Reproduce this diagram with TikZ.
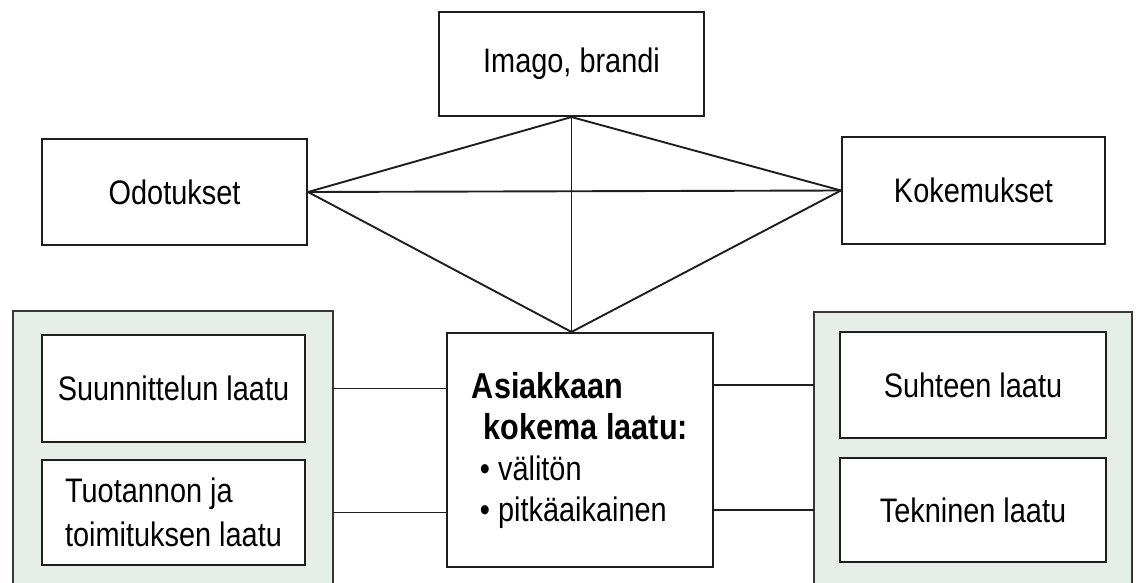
\documentclass[tikz,border=0pt]{standalone}
\usepackage{fontspec}
\setmainfont{Liberation Sans}[FakeStretch=0.85]
\usetikzlibrary{calc}
\definecolor{panelfill}{RGB}{231,237,233}
\definecolor{edge}{RGB}{30,30,30}
\definecolor{paneledge}{RGB}{55,55,55}
\newcommand{\headfont}{\fontsize{36}{41}\selectfont\bfseries}
\newcommand{\itemfont}{\fontsize{34}{41}\selectfont\mdseries}
\begin{document}
\begin{tikzpicture}[x=1pt,y=-1pt,
  box/.style={draw=edge,line width=2.1pt,fill=white,inner sep=0pt,
    font=\fontsize{34}{44}\selectfont,align=center},
  panelbox/.style={fill=panelfill,draw=none,inner sep=0pt},
  paneline/.style={draw=paneledge,line width=2pt},
  link/.style={draw=edge,line width=1.9pt}]
\useasboundingbox (0,0) rectangle (1141,583);
% grey panels
\node[panelbox,minimum width=320pt,minimum height=272pt] (pl) at (173,447) {};
\node[panelbox,minimum width=318pt,minimum height=271pt] (pr) at (973,447.5) {};
\draw[paneline] (pl.south west) -- (pl.north west) -- (pl.north east) -- (pl.south east);
\draw[paneline] (pr.south west) -- (pr.north west) -- (pr.north east) -- (pr.south east);
% boxes
\node[box,minimum width=265pt,minimum height=104pt] (imago) at (571.5,64) {Imago, brandi};
\node[box,minimum width=265pt,minimum height=106pt] (odot) at (174.5,192) {Odotukset};
\node[box,minimum width=263pt,minimum height=107pt] (koke) at (973.5,190.5) {Kokemukset};
\node[box,minimum width=266pt,minimum height=234pt,align=left,font=\itemfont] (cbox) at (580,450) {\headfont Asiakkaan\\\headfont\hspace*{12pt}kokema laatu:\\\itemfont\hspace*{8pt}\textbullet\ välitön\\\itemfont\hspace*{8pt}\textbullet\ pitkäaikainen};
\node[box,minimum width=263pt,minimum height=107pt] (suun) at (173.5,388.5) {Suunnittelun laatu};
\node[box,minimum width=263pt,minimum height=105pt,align=left] (tuot) at (173.5,512.5) {Tuotannon ja\\toimituksen laatu};
\node[box,minimum width=266pt,minimum height=106pt] (suht) at (973,385) {Suhteen laatu};
\node[box,minimum width=266pt,minimum height=104pt] (tekn) at (973,510) {Tekninen laatu};
% diamond connectors
\coordinate (apex) at (imago.south |- cbox.north);
\draw[link] (odot.east) -- (imago.south) -- (koke.west);
\draw[link] (odot.east) -- (apex) -- (koke.west);
\draw[link] (odot.east) -- (koke.west);
\draw[link] (imago.south) -- (apex);
% side connectors
\draw[link] (suun.east -| pl.east) -- (suun.east -| cbox.west);
\draw[link] (tuot.east -| pl.east) -- (tuot.east -| cbox.west);
\draw[link] (suht.west -| cbox.east) -- (suht.west -| pr.west);
\draw[link] (tekn.west -| cbox.east) -- (tekn.west -| pr.west);
\end{tikzpicture}
\end{document}
